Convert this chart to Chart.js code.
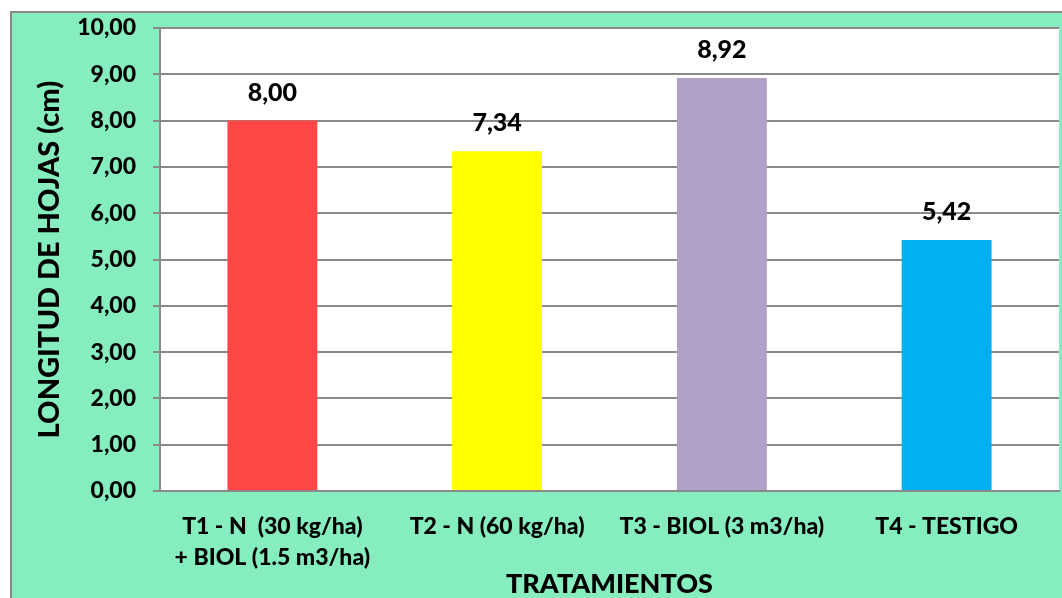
<!DOCTYPE html>
<html>
<head>
<meta charset="utf-8">
<script src="https://cdn.jsdelivr.net/npm/chart.js@4.4.1/dist/chart.umd.min.js"></script>
<style>
  html, body { margin: 0; padding: 0; background: #ffffff; }
  body { width: 1062px; height: 598px; overflow: hidden; position: relative; }
  #frame {
    position: absolute; left: 10px; top: 11px;
    width: 1050px; height: 585px;
    background: #85EDBE;
    border-left: 2px solid #8a8a8a;
    border-top: 2px solid #8a8a8a;
  }
  canvas { display: block; }
</style>
</head>
<body>
<div id="frame"><canvas id="chart" width="1050" height="585"></canvas></div>
<script>
// Longitud de hojas por tratamiento
const categories = [
  ['T1 - N  (30 kg/ha)', '+ BIOL (1.5 m3/ha)'],
  'T2 - N (60 kg/ha)',
  'T3 - BIOL (3 m3/ha)',
  'T4 - TESTIGO'
];
const lengths = [8.00, 7.34, 8.92, 5.42];
const barColors = ['#FF4747', '#FFFF00', '#B1A1C8', '#00B0F0'];
const yTicks = [0, 1, 2, 3, 4, 5, 6, 7, 8, 9, 10];

const FONT = 'Lato, "Open Sans", sans-serif';
const WEIGHT = 900;
const fmt = v => v.toFixed(2).replace('.', ',');

// Writes each bar's value above it
const valueLabels = {
  id: 'valueLabels',
  afterDatasetsDraw(chart) {
    const ctx = chart.ctx;
    const meta = chart.getDatasetMeta(0);
    ctx.save();
    ctx.font = WEIGHT + ' 25px ' + FONT;
    ctx.fillStyle = '#000000';
    ctx.textAlign = 'center';
    ctx.textBaseline = 'middle';
    meta.data.forEach((bar, i) => {
      ctx.fillText(fmt(lengths[i]), bar.x, bar.y - 28);
    });
    ctx.restore();
  }
};

// White plotting area
const plotBackground = {
  id: 'plotBackground',
  beforeDraw(chart) {
    const { ctx, chartArea: a } = chart;
    ctx.save();
    ctx.fillStyle = '#ffffff';
    ctx.fillRect(a.left, a.top, a.right - a.left, a.bottom - a.top);
    ctx.restore();
  }
};

new Chart(document.getElementById('chart'), {
  type: 'bar',
  data: {
    labels: categories,
    datasets: [{
      data: lengths,
      backgroundColor: barColors,
      borderWidth: 0,
      barPercentage: 0.4,
      categoryPercentage: 1.0
    }]
  },
  options: {
    responsive: false,
    animation: false,
    events: [],
    layout: { padding: { top: 15, right: 3, bottom: 0, left: 0 } },
    plugins: {
      legend: { display: false },
      tooltip: { enabled: false }
    },
    scales: {
      x: {
        afterFit(scale) { scale.height = 107; },
        grid: { display: false, drawTicks: false },
        border: { display: true, color: '#8a8a8a', width: 2 },
        ticks: {
          color: '#000000',
          padding: 20,
          maxRotation: 0,
          autoSkip: false,
          font: { family: FONT, size: 23, weight: WEIGHT, lineHeight: 1.35 }
        },
        title: {
          display: true,
          text: 'TRATAMIENTOS',
          color: '#000000',
          padding: { top: 0, bottom: 0 },
          font: { family: FONT, size: 27, weight: WEIGHT, lineHeight: 1.04 }
        }
      },
      y: {
        min: 0,
        max: 10,
        afterFit(scale) {
          scale.width = 148;
          scale.paddingTop = 0;
          scale.paddingBottom = 0;
        },
        afterBuildTicks(scale) { scale.ticks = yTicks.map(v => ({ value: v })); },
        grid: { color: '#8a8a8a', lineWidth: 2, tickLength: 7, drawTicks: true },
        border: { display: true, color: '#8a8a8a', width: 2 },
        ticks: {
          color: '#000000',
          padding: 17,
          callback: v => fmt(v),
          font: { family: FONT, size: 23, weight: WEIGHT }
        },
        title: {
          display: true,
          text: 'LONGITUD DE HOJAS (cm)',
          color: '#000000',
          padding: { top: 20, bottom: 0 },
          font: { family: FONT, size: 29, weight: WEIGHT, lineHeight: 1.2 }
        }
      }
    }
  },
  plugins: [plotBackground, valueLabels]
});
</script>
</body>
</html>
